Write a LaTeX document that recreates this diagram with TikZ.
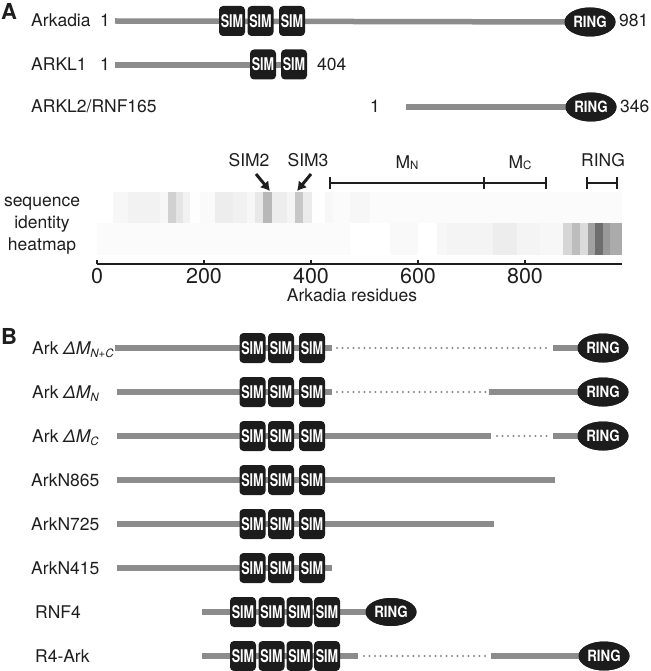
\documentclass[tikz,border=0pt]{standalone}
\usepackage{fontspec}
\setmainfont{TeX Gyre Heros}
\usetikzlibrary{shapes.geometric,arrows.meta}
\definecolor{bargray}{RGB}{140,140,140}
\definecolor{boxblack}{RGB}{28,28,28}
\definecolor{dotgray}{RGB}{135,135,135}
\definecolor{inkc}{RGB}{30,30,30}
\newcommand\lblfont{\fontsize{17.5}{20}\selectfont}
\newcommand\tickfont{\fontsize{21.5}{24}\selectfont}
\newcommand\panelfont{\fontsize{22}{24}\selectfont\bfseries}
\newcommand\simtxt{{\fontsize{17.5}{17}\selectfont\bfseries\scalebox{0.72}[1]{SIM}}}
\newcommand\ringtxt{{\fontsize{15.5}{15}\selectfont\bfseries\scalebox{0.86}[1]{RING}}}
\newcommand\subtxt[1]{\raisebox{-3pt}{\fontsize{11.5}{11}\selectfont #1}}
\begin{document}
\begin{tikzpicture}[x=1pt,y=-1pt,
  sim/.style={fill=boxblack, rounded corners=4pt, minimum width=26pt, minimum height=30pt, inner sep=0pt, text=white},
  ringnode/.style={ellipse, fill=boxblack, minimum width=51pt, minimum height=29pt, inner sep=0pt, text=white},
  bar/.style={draw=bargray, line width=5.5pt},
  dotline/.style={draw=dotgray, line width=2.2pt, dash pattern=on 0pt off 5.5pt, line cap=round},
  lbl/.style={anchor=base west, inner sep=0pt, font=\lblfont, text=inkc},
  num/.style={inner sep=0pt, font=\lblfont, text=inkc},
  brk/.style={draw=inkc, line width=1.6pt},
  arr/.style={draw=inkc, line width=3pt, -{Latex[length=9pt,width=11pt]}}
]
\useasboundingbox (0,0) rectangle (650,671);

% ---------------- Panel A ----------------
\node[anchor=west, inner sep=0pt, font=\panelfont, text=inkc] (pA) at (1,11) {A};

% Arkadia
\node[lbl] (lArk) at (31,27) {Arkadia};
\node[num, anchor=base] (nArk1) at (105,27) {1};
\coordinate (ark0) at (115,21);
\node[ringnode] (arkR) at (590,22) {\ringtxt};
\draw[bar] (ark0) -- (arkR.center);
\node[ringnode] at (590,22) {\ringtxt};
\node[sim] (arkS1) at (232,21) {\simtxt};
\node[sim] (arkS2) at (260.5,21) {\simtxt};
\node[sim] (arkS3) at (292,21) {\simtxt};
\node[num, anchor=base west] (nArk2) at (619,27) {981};

% ARKL1
\node[lbl] (lK1) at (31,71) {ARKL1};
\node[num, anchor=base] (nK11) at (105,71) {1};
\coordinate (k10) at (115,65);
\coordinate (k11) at (300,65);
\draw[bar] (k10) -- (k11);
\node[sim] (k1S1) at (263,64.5) {\simtxt};
\node[sim] (k1S2) at (294,64.5) {\simtxt};
\node[num, anchor=base west] (nK12) at (317,71) {404};

% ARKL2
\node[lbl] (lK2) at (31,113) {ARKL2/RNF165};
\node[num, anchor=base] (nK21) at (375,113) {1};
\coordinate (k20) at (406,107);
\node[ringnode] (k2R) at (591,107) {\ringtxt};
\draw[bar] (k20) -- (k2R.center);
\node[ringnode] at (591,107) {\ringtxt};
\node[num, anchor=base west] (nK22) at (620,113) {346};

% ---------------- heatmap ----------------
\node[font=\lblfont, text=inkc, anchor=base] (hs1) at (42,206) {sequence};
\node[font=\lblfont, text=inkc, anchor=base] (hs2) at (42,228) {identity};
\node[font=\lblfont, text=inkc, anchor=base] (hs3) at (42,250) {heatmap};

\fill[black!1.5] (113,192) rectangle (622,223);
\foreach \a/\b/\c in {113/128/3, 128/160/5, 160/168/3, 168/176/18, 176/183/10, 183/190/5,
  190/200/0.5, 200/215/2, 215/233/7, 233/247/5.5, 247/255/3, 255/263/9, 263/272/28,
  272/287/7, 287/295/4, 295/303/22, 303/312/8, 312/325/0.5, 325/333/3, 333/350/1.5, 350/370/3}
  \fill[black!\c] (\a,192) rectangle (\b,223.2);

\fill[black!1.5] (97,223) rectangle (350,255);
\foreach \a/\b/\c in {390/418/2.5, 437/447/3, 447/493/4.5, 493/517/7, 517/540/4.5, 540/563/3,
  563/572/16, 572/580/26, 580/588/14, 588/595/37, 595/603/57, 603/610/40, 610/622/33}
  \fill[black!\c] (\a,223) rectangle (\b,255);

% axis
\coordinate (ax0) at (97,264);
\coordinate (ax1) at (622,264);
\draw[draw=inkc, line width=1.3pt] (ax0) -- (ax1);
\foreach \x/\t in {97/0, 204/200, 311/400, 418/600, 525/800} {
  \draw[draw=inkc, line width=1.3pt] (\x,264) -- (\x,260);
  \node[font=\tickfont, text=inkc, anchor=base, inner sep=0pt] (tk\t) at (\x,283) {\t};
}
\node[font=\lblfont, text=inkc, anchor=base] (axl) at (352,301) {Arkadia residues};

% region labels
\node[font=\lblfont, text=inkc, anchor=base, inner sep=0pt] (s2l) at (249,167) {SIM2};
\node[font=\lblfont, text=inkc, anchor=base, inner sep=0pt] (s3l) at (308,167) {SIM3};
\coordinate (s2a) at (256,174);
\coordinate (s2b) at (270,191);
\coordinate (s3a) at (311,174);
\coordinate (s3b) at (297,191);
\draw[arr] (s2a) -- (s2b);
\draw[arr] (s3a) -- (s3b);

\coordinate (mn0) at (330,183);
\coordinate (mn1) at (484,183);
\coordinate (mc1) at (546,183);
\draw[brk] (mn0) -- (mc1);
\draw[brk] (330,177) -- (330,189);
\draw[brk] (484,177) -- (484,189);
\draw[brk] (546,177) -- (546,189);
\node[font=\lblfont, text=inkc, anchor=base, inner sep=0pt] (mnl) at (407,168) {M\raisebox{-1pt}{\fontsize{11.5}{11}\selectfont N}};
\node[font=\lblfont, text=inkc, anchor=base, inner sep=0pt] (mcl) at (520,168) {M\raisebox{-1pt}{\fontsize{11.5}{11}\selectfont C}};
\coordinate (rb0) at (587,183);
\coordinate (rb1) at (617,183);
\draw[brk] (rb0) -- (rb1);
\draw[brk] (587,177) -- (587,189);
\draw[brk] (617,177) -- (617,189);
\node[font=\lblfont, text=inkc, anchor=base, inner sep=0pt] (rgl) at (603,167) {RING};

% ---------------- Panel B ----------------
\node[anchor=west, inner sep=0pt, font=\panelfont, text=inkc] (pB) at (1,336) {B};

% row 1: Ark dMN+C
\node[lbl] (lb1) at (32,354) {Ark {\itshape ΔM\subtxt{N+C}}};
\coordinate (b1a) at (115,348); \coordinate (b1b) at (332,348);
\coordinate (b1c) at (337,348); \coordinate (b1d) at (549,348);
\coordinate (b1e) at (553,348);
\node[ringnode] (b1R) at (603,348) {\ringtxt};
\draw[bar] (b1a) -- (b1b);
\draw[dotline] (b1c) -- (b1d);
\draw[bar] (b1e) -- (b1R.center);
\node[ringnode] at (603,348) {\ringtxt};
\node[sim] (b1S1) at (252.5,348) {\simtxt};
\node[sim] (b1S2) at (281,348) {\simtxt};
\node[sim] (b1S3) at (312,348) {\simtxt};

% row 2: Ark dMN
\node[lbl] (lb2) at (32,398) {Ark {\itshape ΔM\subtxt{N}}};
\coordinate (b2a) at (117,392); \coordinate (b2b) at (332,392);
\coordinate (b2c) at (337,392); \coordinate (b2d) at (486,392);
\coordinate (b2e) at (489,392);
\node[ringnode] (b2R) at (603,392) {\ringtxt};
\draw[bar] (b2a) -- (b2b);
\draw[dotline] (b2c) -- (b2d);
\draw[bar] (b2e) -- (b2R.center);
\node[ringnode] at (603,392) {\ringtxt};
\node[sim] (b2S1) at (252.5,392) {\simtxt};
\node[sim] (b2S2) at (281,392) {\simtxt};
\node[sim] (b2S3) at (312,392) {\simtxt};

% row 3: Ark dMC
\node[lbl] (lb3) at (32,442) {Ark {\itshape ΔM\subtxt{C}}};
\coordinate (b3a) at (117,436); \coordinate (b3b) at (491,436);
\coordinate (b3c) at (497,436); \coordinate (b3d) at (549,436);
\coordinate (b3e) at (553,436);
\node[ringnode] (b3R) at (603,436) {\ringtxt};
\draw[bar] (b3a) -- (b3b);
\draw[dotline] (b3c) -- (b3d);
\draw[bar] (b3e) -- (b3R.center);
\node[ringnode] at (603,436) {\ringtxt};
\node[sim] (b3S1) at (252.5,436) {\simtxt};
\node[sim] (b3S2) at (281,436) {\simtxt};
\node[sim] (b3S3) at (312,436) {\simtxt};

% row 4: ArkN865
\node[lbl] (lb4) at (31,486) {ArkN865};
\coordinate (b4a) at (117,480); \coordinate (b4b) at (555,480);
\draw[bar] (b4a) -- (b4b);
\node[sim] (b4S1) at (252.5,480) {\simtxt};
\node[sim] (b4S2) at (281,480) {\simtxt};
\node[sim] (b4S3) at (312,480) {\simtxt};

% row 5: ArkN725
\node[lbl] (lb5) at (31,530) {ArkN725};
\coordinate (b5a) at (117,524); \coordinate (b5b) at (494,524);
\draw[bar] (b5a) -- (b5b);
\node[sim] (b5S1) at (252.5,524) {\simtxt};
\node[sim] (b5S2) at (281,524) {\simtxt};
\node[sim] (b5S3) at (312,524) {\simtxt};

% row 6: ArkN415
\node[lbl] (lb6) at (31,574) {ArkN415};
\coordinate (b6a) at (117,568); \coordinate (b6b) at (332,568);
\draw[bar] (b6a) -- (b6b);
\node[sim] (b6S1) at (252.5,568) {\simtxt};
\node[sim] (b6S2) at (281,568) {\simtxt};
\node[sim] (b6S3) at (312,568) {\simtxt};

% row 7: RNF4
\node[lbl] (lb7) at (35,618) {RNF4};
\coordinate (b7a) at (202,612);
\node[ringnode, minimum height=28pt] (b7R) at (391,612) {\ringtxt};
\draw[bar] (b7a) -- (b7R.center);
\node[ringnode, minimum height=28pt] at (391,612) {\ringtxt};
\node[sim] (b7S1) at (243,612) {\simtxt};
\node[sim] (b7S2) at (271.5,612) {\simtxt};
\node[sim] (b7S3) at (299.5,612) {\simtxt};
\node[sim] (b7S4) at (327,612) {\simtxt};

% row 8: R4-Ark
\node[lbl] (lb8) at (35,662) {R4-Ark};
\coordinate (b8a) at (202,656); \coordinate (b8b) at (358,656);
\coordinate (b8c) at (364,656); \coordinate (b8d) at (487,656);
\coordinate (b8e) at (491,656);
\node[ringnode] (b8R) at (604,656) {\ringtxt};
\draw[bar] (b8a) -- (b8b);
\draw[dotline] (b8c) -- (b8d);
\draw[bar] (b8e) -- (b8R.center);
\node[ringnode] at (604,656) {\ringtxt};
\node[sim] (b8S1) at (243,656) {\simtxt};
\node[sim] (b8S2) at (271.5,656) {\simtxt};
\node[sim] (b8S3) at (299.5,656) {\simtxt};
\node[sim] (b8S4) at (327,656) {\simtxt};
\end{tikzpicture}
\end{document}
